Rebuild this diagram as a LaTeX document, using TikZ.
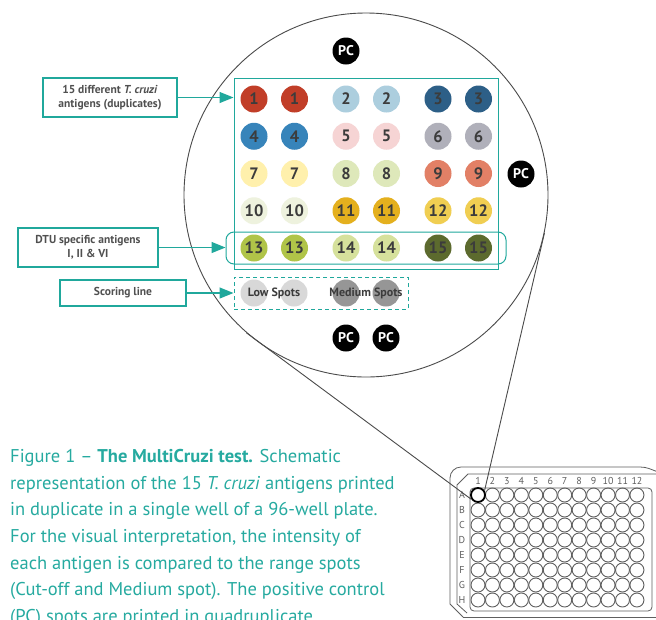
\documentclass[tikz,border=0pt]{standalone}
\usepackage{fontspec}
\setmainfont{PT Sans}
\usetikzlibrary{arrows.meta,fit,positioning}
\definecolor{mcteal}{RGB}{32,168,156}
\definecolor{capteal}{RGB}{38,170,160}
\definecolor{numgrey}{RGB}{60,60,60}
\definecolor{labelgrey}{RGB}{80,80,80}
\definecolor{circgrey}{RGB}{75,75,75}
\definecolor{plategrey}{RGB}{95,95,95}
\definecolor{sp1}{RGB}{193,62,40}
\definecolor{sp2}{RGB}{172,206,222}
\definecolor{sp3}{RGB}{45,95,135}
\definecolor{sp4}{RGB}{55,132,186}
\definecolor{sp5}{RGB}{246,212,212}
\definecolor{sp6}{RGB}{176,176,186}
\definecolor{sp7}{RGB}{255,240,172}
\definecolor{sp8}{RGB}{222,232,186}
\definecolor{sp9}{RGB}{226,128,102}
\definecolor{sp10}{RGB}{238,242,222}
\definecolor{sp11}{RGB}{228,176,30}
\definecolor{sp12}{RGB}{240,206,82}
\definecolor{sp13}{RGB}{176,196,72}
\definecolor{sp14}{RGB}{214,225,156}
\definecolor{sp15}{RGB}{92,106,46}
\definecolor{lowgrey}{RGB}{216,216,216}
\definecolor{medgrey}{RGB}{150,150,150}

\begin{document}
\begin{tikzpicture}[x=1pt,y=-1pt,
    spot/.style={circle,minimum size=27pt,inner sep=0pt,text=numgrey,font=\fontsize{16.5}{16.5}\selectfont\bfseries},
    pc/.style={circle,fill=black,minimum size=27pt,inner sep=0pt,text=white,font=\fontsize{14}{14}\selectfont\bfseries},
    infobox/.style={draw=mcteal,line width=1.2pt,inner sep=0pt,align=center,text=labelgrey,font=\fontsize{11.5}{14.5}\selectfont\bfseries},
    pointer/.style={draw=mcteal,line width=1.2pt,-{Triangle[length=14pt,width=11pt,fill=mcteal]}},
    frame/.style={draw=mcteal,line width=1pt,inner sep=0pt},
    well/.style={circle,draw=plategrey,line width=0.9pt,minimum size=14pt,inner sep=0pt},
    plate/.style={draw=plategrey,line width=0.8pt}
  ]
  \clip (0,0) rectangle (656,619);
  \fill[white] (0,0) rectangle (656,619);

  \node[circle,draw=circgrey,line width=0.9pt,minimum size=364pt,inner sep=0pt] (mag) at (366,195) {};

  \node[frame,fit={(234,78) (498,269)}] (grid) {};
  \node[frame,rounded corners=8pt,fit={(226,232) (506,264)}] (dtu) {};
  \node[frame,dashed,dash pattern=on 4pt off 3pt,fit={(234,277) (408,309)}] (scoring) {};

  \foreach \n [count=\i from 0] in {1,...,15} {
    \pgfmathtruncatemacro\row{\i/3}
    \pgfmathtruncatemacro\grp{mod(\i,3)}
    \node[spot,fill=sp\n] (s\n-a) at ({254+92*\grp},{99+37.25*\row}) {\n};
    \node[spot,fill=sp\n] (s\n-b) at ({294.5+92*\grp},{99+37.25*\row}) {\n};
  }

  \node[spot,fill=lowgrey] (low1) at (254,293) {};
  \node[spot,fill=lowgrey] (low2) at (294,293) {};
  \node[spot,fill=medgrey] (med1) at (346,293) {};
  \node[spot,fill=medgrey] (med2) at (386,293) {};
  \node[text=numgrey,font=\fontsize{12}{12}\selectfont\bfseries] (lowtext) at (274,293) {Low Spots};
  \node[text=numgrey,font=\fontsize{12}{12}\selectfont\bfseries] (medtext) at (366,293) {Medium Spots};

  \node[pc] (pctop) at (346,51) {PC};
  \node[pc] (pcright) at (521,174) {PC};
  \node[pc] (pcbot1) at (346,338) {PC};
  \node[pc] (pcbot2) at (386,338) {PC};

  \node[infobox,minimum width=134pt,minimum height=39pt] (antigens) at (110,97.5) {15 different \textit{T. cruzi}\\antigens (duplicates)};
  \node[infobox,minimum width=140pt,minimum height=39pt] (dtuspec) at (88,247.5) {DTU specific antigens\\I, II \& VI};
  \node[infobox,minimum width=126pt,minimum height=26pt] (scoreline) at (123,293) {Scoring line};
  \draw[pointer] (antigens) -- (antigens -| grid.west);
  \draw[pointer] (dtuspec) -- (dtuspec -| dtu.west);
  \draw[pointer] (scoreline) -- (scoreline -| scoring.west);

  \draw[plate] (463,617) -- (450,604) -- (450,478) to[out=90,in=180] (461,467) -- (640,467) to[out=0,in=160] (658,472);
  \draw[plate] (463,617) -- (660,617);
  \draw[plate] (467,613) -- (457,604) -- (457,485) -- (468,474) -- (660,474);
  \draw[plate,rounded corners=4pt] (470,488) rectangle (652,611);
  \foreach \c [count=\k from 0] in {1,...,12}
    \node[text=plategrey,font=\fontsize{10}{10}\selectfont] (col\c) at ({478+14.45*\k},481) {\c};
  \foreach \r [count=\j from 0] in {A,...,H} {
    \node[text=plategrey,font=\fontsize{10}{10}\selectfont] (row\r) at (462,{495+15*\j}) {\r};
    \foreach \c [count=\k from 0] in {1,...,12}
      \node[well] (w\r\c) at ({478+14.45*\k},{495+15*\j}) {};
  }
  \node[well,draw=black,line width=1.8pt] (A1) at (wA1) {};

  \draw[circgrey,line width=0.9pt] (mag.229) -- (A1.214);
  \draw[circgrey,line width=0.9pt] (mag.348) -- (A1.34);

  \node[anchor=north west,inner sep=0pt,align=left,text=capteal,font=\fontsize{18.5}{26.7}\selectfont] (caption) at (10,449) {Figure 1 -- \textbf{The MultiCruzi test.} Schematic\\representation of the 15 \textit{T. cruzi} antigens printed\\in duplicate in a single well of a 96-well plate.\\For the visual interpretation, the intensity of\\each antigen is compared to the range spots\\(Cut-off and Medium spot). The positive control\\(PC) spots are printed in quadruplicate.};
\end{tikzpicture}
\end{document}
